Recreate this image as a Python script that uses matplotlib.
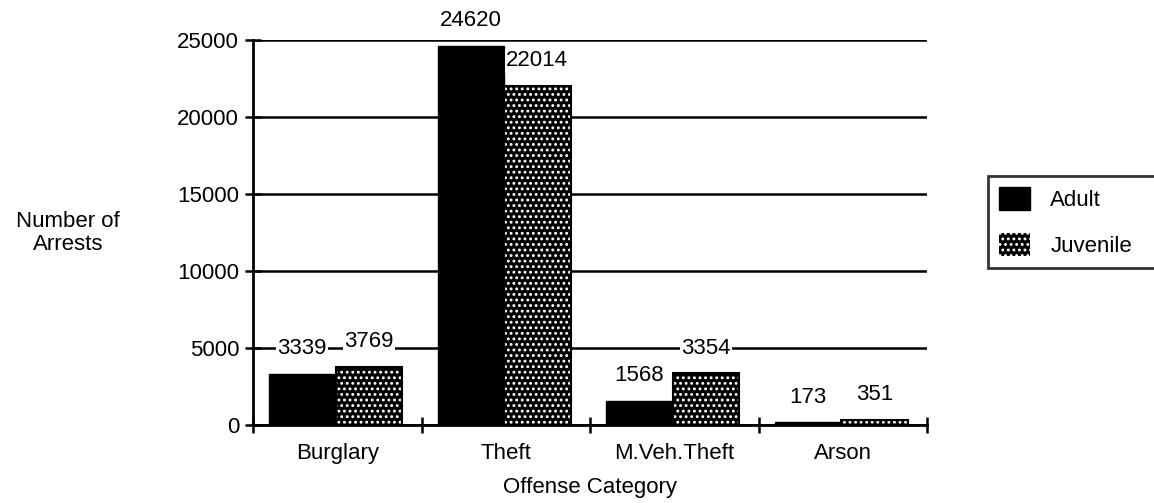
import matplotlib as mpl
mpl.use("Agg")
import matplotlib.pyplot as plt
import numpy as np

# data
categories = ["Burglary", "Theft", "M.Veh.Theft", "Arson"]
adult = [3339, 24620, 1568, 173]
juvenile = [3769, 22014, 3354, 351]
yticks = [0, 5000, 10000, 15000, 20000, 25000]

plt.rcParams['font.family'] = ['Liberation Sans', 'DejaVu Sans']
plt.rcParams['hatch.linewidth'] = 1.3

fs = 16

fig = plt.figure(figsize=(11.54, 5.03), dpi=100)
ax = fig.add_axes([253/1154, 1-425/503, (927-253)/1154, (425-40)/503])

x = np.arange(len(categories))
off = 0.095  # gap from category boundary to first bar
w = 0.395    # bar width

b1 = ax.bar(x + off, adult, w, align='edge', color='black', edgecolor='black',
            linewidth=1, label='Adult', zorder=3)
b2 = ax.bar(x + off + w, juvenile, w, align='edge', color='black',
            edgecolor='white', hatch='...', linewidth=0, label='Juvenile', zorder=3)
# black outline on the dotted bars
ax.bar(x + off + w, juvenile, w, align='edge', color='none', edgecolor='black',
       linewidth=1.5, zorder=4)

lbl_box = dict(facecolor='white', edgecolor='none', pad=1)
for i in range(len(categories)):
    ax.annotate(str(adult[i]), (x[i] + off + w/2, adult[i]), xytext=(0, 18),
                textcoords='offset points', ha='center', va='center', fontsize=fs,
                bbox=lbl_box, zorder=5)
    ax.annotate(str(juvenile[i]), (x[i] + off + 1.5*w, juvenile[i]), xytext=(0, 18),
                textcoords='offset points', ha='center', va='center', fontsize=fs,
                bbox=lbl_box, zorder=5)

ax.set_xlim(0, 4)
ax.set_ylim(0, 25000)
ax.set_yticks(yticks)
ax.set_yticklabels([str(v) for v in yticks], fontsize=fs)
ax.yaxis.grid(True, color='black', linewidth=1.8, zorder=0)
ax.set_axisbelow(True)

ax.set_xticks(np.arange(5))
ax.set_xticklabels([])
ax.set_xticks(x + 0.5, minor=True)
ax.set_xticklabels(categories, minor=True, fontsize=fs)
ax.tick_params(axis='x', which='minor', length=0, pad=13)
ax.tick_params(axis='both', which='major', direction='inout', length=12, width=1.8, color='black')
ax.tick_params(axis='y', pad=4)

for s in ['top', 'right']:
    ax.spines[s].set_visible(False)
for s in ['left', 'bottom']:
    ax.spines[s].set_linewidth(2)

ax.set_xlabel('Offense Category', fontsize=fs, va='center')
ax.xaxis.set_label_coords(0.5, (425-488)/385)
fig.text(68/1154, 1-233/503, 'Number of\nArrests', ha='center', va='center', fontsize=fs,
         linespacing=1.1)

leg = fig.legend(handles=[b1, b2], loc='upper left',
                 bbox_to_anchor=(988/1154, 1-277/503, 220/1154, 101/503), mode='expand',
                 fontsize=fs, frameon=True, fancybox=False, handlelength=1.4, handleheight=1.2,
                 borderpad=0.5, labelspacing=1.0, handletextpad=0.9, borderaxespad=0)
leg.get_frame().set_edgecolor('black')
leg.get_frame().set_linewidth(2)

fig.savefig('out.png', dpi=100)
